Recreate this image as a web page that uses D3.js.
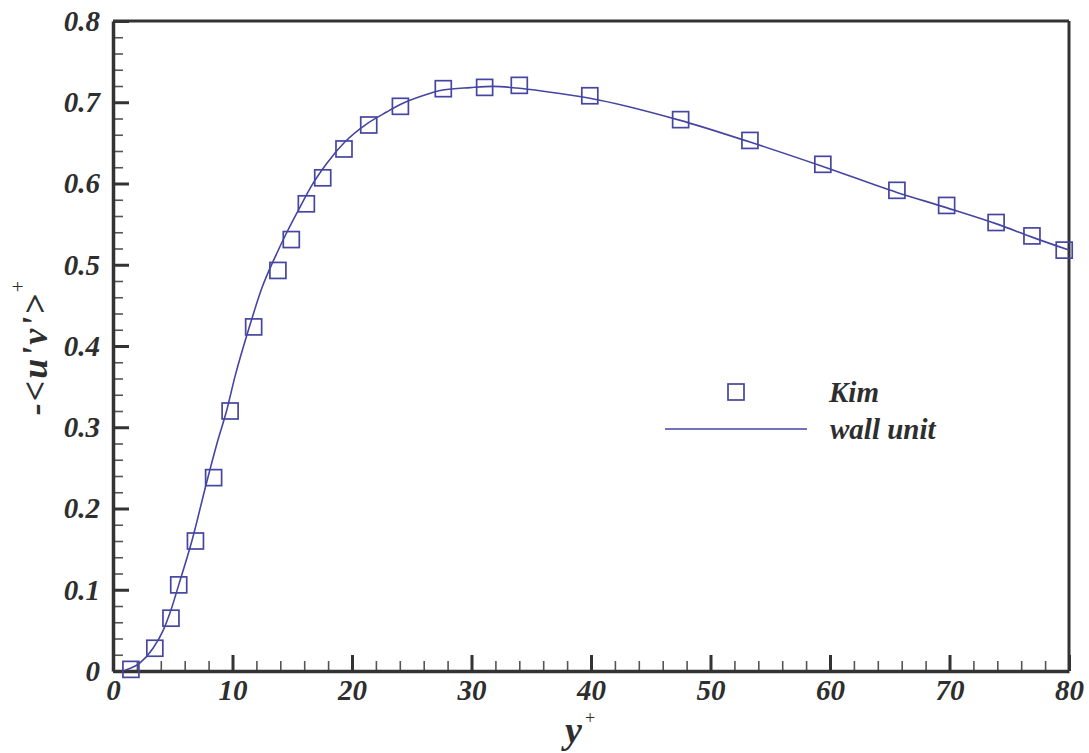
<!DOCTYPE html>
<html>
<head>
<meta charset="utf-8">
<script src="https://cdn.jsdelivr.net/npm/d3@7"></script>
<style>
  html, body { margin: 0; padding: 0; background: #fff; }
  svg { display: block; }
  .lbl { font-family: "Liberation Serif", "Times New Roman", serif; font-weight: bold; font-style: italic; fill: #2e2e2e; }
</style>
</head>
<body>
<svg id="chart" width="1089" height="753"></svg>
<script>
// ---- data ----
const kimX = [1.5, 3.5, 4.85, 5.5, 6.9, 8.42, 9.8, 11.77, 13.8, 14.92, 16.18, 17.55, 19.33, 21.4, 24.05, 27.64, 31.1, 34.0, 39.9, 47.5, 53.3, 59.4, 65.6, 69.76, 73.9, 76.9, 79.6];
const kimY = [0.002, 0.028, 0.065, 0.106, 0.160, 0.238, 0.320, 0.4235, 0.493, 0.531, 0.575, 0.607, 0.6425, 0.672, 0.695, 0.7167, 0.7183, 0.7208, 0.708, 0.6786, 0.653, 0.6236, 0.5916, 0.573, 0.552, 0.5355, 0.518];

const wallX = [1.0, 2.26, 3.35, 4.2, 4.85, 5.5, 6.6, 7.85, 8.7, 9.5, 10.2, 11.4, 12.45, 13.55, 14.55, 15.65, 16.65, 17.9, 19.4, 21.3, 22.9, 24.0, 25.9, 27.6, 29.9, 31.8, 33.8, 36.3, 39.9, 47.4, 53.3, 59.4, 65.6, 69.8, 74.0, 76.9, 80.0];
const wallY = [0.001, 0.01, 0.028, 0.05, 0.075, 0.106, 0.16, 0.233, 0.28, 0.32, 0.362, 0.423, 0.471, 0.509, 0.54, 0.571, 0.598, 0.625, 0.651, 0.674, 0.688, 0.697, 0.708, 0.715, 0.718, 0.7195, 0.7175, 0.713, 0.705, 0.678, 0.651, 0.621, 0.589, 0.570, 0.550, 0.534, 0.518];

const xMajorTicks = [0, 10, 20, 30, 40, 50, 60, 70, 80];
const yMajorTicks = [0, 0.1, 0.2, 0.3, 0.4, 0.5, 0.6, 0.7, 0.8];
const xMinorTicks = d3.range(0, 80.001, 2).filter(v => Math.abs(v % 10) > 1e-6);
const yMinorTicks = d3.range(0, 0.8001, 0.02).filter(v => Math.abs(Math.round(v * 100) % 10) !== 0);

const seriesNames = ["Kim", "wall unit"];
const seriesColor = "#4545a2";
const axisColor = "#333333";

// ---- layout ----
const svg = d3.select("#chart");
const L = 113, R = 1069, T = 21, B = 671;
const x = d3.scaleLinear().domain([0, 80]).range([L, R]);
const y = d3.scaleLinear().domain([0, 0.8]).range([B, T]);

// frame top/right
svg.append("line").attr("x1", L).attr("x2", R).attr("y1", T).attr("y2", T)
  .attr("stroke", axisColor).attr("stroke-width", 3);
svg.append("line").attr("x1", R).attr("x2", R).attr("y1", T).attr("y2", B)
  .attr("stroke", axisColor).attr("stroke-width", 3);

// minor ticks
const xMinor = svg.append("g").attr("transform", `translate(0,${B})`)
  .call(d3.axisBottom(x).tickValues(xMinorTicks).tickSize(-10).tickFormat(""));
xMinor.select(".domain").remove();
xMinor.selectAll(".tick line").attr("stroke", "#555").attr("stroke-width", 1.6);

const yMinor = svg.append("g").attr("transform", `translate(${L},0)`)
  .call(d3.axisLeft(y).tickValues(yMinorTicks).tickSize(-10).tickFormat(""));
yMinor.select(".domain").remove();
yMinor.selectAll(".tick line").attr("stroke", "#555").attr("stroke-width", 1.6);

// major axes
const fmtY = d => d === 0 ? "0" : d3.format(".1f")(d);
const xAxis = svg.append("g").attr("transform", `translate(0,${B})`)
  .call(d3.axisBottom(x).tickValues(xMajorTicks).tickSizeInner(-16).tickSizeOuter(0).tickPadding(8).tickFormat(d3.format("d")));
const yAxis = svg.append("g").attr("transform", `translate(${L},0)`)
  .call(d3.axisLeft(y).tickValues(yMajorTicks).tickSizeInner(-16).tickSizeOuter(0).tickPadding(13).tickFormat(fmtY));

[xAxis, yAxis].forEach(g => {
  g.select(".domain").attr("stroke", axisColor).attr("stroke-width", 3.5);
  g.selectAll(".tick line").attr("stroke", axisColor).attr("stroke-width", 3);
  g.selectAll(".tick text").attr("class", "lbl").style("font-size", "29px").attr("fill", "#2e2e2e");
});

// ---- series ----
const wallData = wallX.map((v, i) => [v, wallY[i]]);
const kimData = kimX.map((v, i) => [v, kimY[i]]);

svg.append("path").datum(wallData)
  .attr("fill", "none").attr("stroke", seriesColor).attr("stroke-width", 1.6)
  .attr("d", d3.line().x(d => x(d[0])).y(d => y(d[1])).curve(d3.curveMonotoneX));

const sq = 16;
svg.append("g").selectAll("rect").data(kimData).join("rect")
  .attr("x", d => x(d[0]) - sq / 2).attr("y", d => y(d[1]) - sq / 2)
  .attr("width", sq).attr("height", sq)
  .attr("fill", "none").attr("stroke", seriesColor).attr("stroke-width", 1.7);

// ---- legend ----
const lg = svg.append("g");
lg.append("rect").attr("x", 736 - 8).attr("y", 392 - 8).attr("width", 16).attr("height", 16)
  .attr("fill", "none").attr("stroke", seriesColor).attr("stroke-width", 1.7);
lg.append("line").attr("x1", 665).attr("x2", 807).attr("y1", 429).attr("y2", 429)
  .attr("stroke", seriesColor).attr("stroke-width", 1.6);
lg.append("text").attr("class", "lbl").attr("x", 829).attr("y", 402).style("font-size", "29px").text(seriesNames[0]);
lg.append("text").attr("class", "lbl").attr("x", 830).attr("y", 439).style("font-size", "29px").text(seriesNames[1]);

// ---- axis titles ----
const xt = svg.append("text").attr("class", "lbl").attr("x", 565).attr("y", 743).style("font-size", "38px");
xt.append("tspan").text("y");
xt.append("tspan").attr("dx", 3).attr("dy", -19).style("font-size", "18px").style("font-weight", "normal").style("font-style", "normal").text("+");

const yt = svg.append("text").attr("class", "lbl")
  .attr("transform", "translate(47,348) rotate(-90)")
  .attr("text-anchor", "middle").style("font-size", "36px").style("letter-spacing", "2px");
yt.append("tspan").text("-<u'v'>");
yt.append("tspan").attr("dy", -22).style("font-size", "20px").style("font-weight", "normal").style("font-style", "normal").style("letter-spacing", "0px").text("+");
</script>
</body>
</html>
